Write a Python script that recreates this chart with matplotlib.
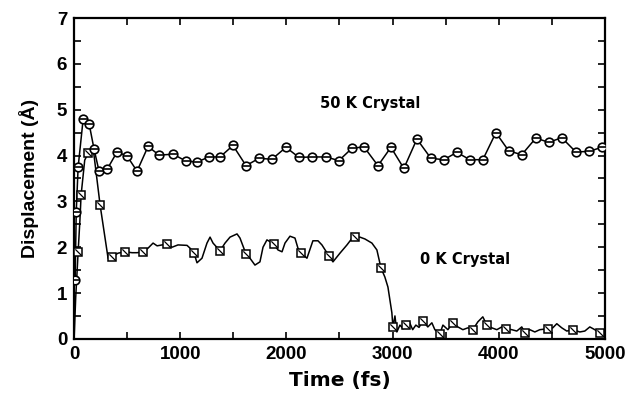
import matplotlib
matplotlib.use("Agg")
import matplotlib.pyplot as plt
import numpy as np
from matplotlib.path import Path
from matplotlib.ticker import MultipleLocator

# 50 K crystal: sampled displacement (fs, angstrom)
t_50k = [10, 20, 38, 85, 141, 188, 235, 311, 405, 499, 593, 697, 800, 932,
         1055, 1158, 1271, 1375, 1497, 1620, 1742, 1864, 1996, 2119, 2241,
         2373, 2495, 2618, 2731, 2863, 2985, 3107, 3230, 3362, 3484, 3606,
         3729, 3851, 3974, 4096, 4218, 4350, 4473, 4595, 4727, 4849, 4972]
d_50k = [1.29, 2.77, 3.75, 4.79, 4.70, 4.14, 3.66, 3.70, 4.08, 3.99, 3.66,
         4.20, 4.01, 4.03, 3.88, 3.86, 3.97, 3.97, 4.22, 3.78, 3.94, 3.92,
         4.18, 3.96, 3.97, 3.97, 3.89, 4.16, 4.19, 3.78, 4.18, 3.72, 4.36,
         3.94, 3.91, 4.07, 3.91, 3.91, 4.50, 4.10, 4.02, 4.38, 4.29, 4.39,
         4.08, 4.09, 4.18]

# 0 K crystal: full trajectory
t_0k = [0, 15, 38, 55, 66, 100, 132, 180, 245, 320, 358, 414, 480, 546, 593,
        650, 697, 744, 782, 829, 876, 923, 979, 1064, 1092, 1130, 1158, 1205,
        1252, 1281, 1309, 1375, 1422, 1469, 1535, 1563, 1620, 1660, 1704,
        1751, 1780, 1817, 1883, 1921, 1959, 1987, 2034, 2081, 2109, 2137,
        2194, 2222, 2250, 2298, 2335, 2401, 2439, 2505, 2571, 2627, 2646,
        2693, 2740, 2806, 2853, 2891, 2928, 2957, 2994, 3004, 3023, 3041,
        3070, 3100, 3126, 3160, 3190, 3220, 3250, 3286, 3333, 3371, 3399,
        3446, 3475, 3522, 3569, 3616, 3663, 3710, 3757, 3804, 3851, 3889,
        3936, 3983, 4030, 4068, 4124, 4171, 4218, 4247, 4294, 4341, 4388,
        4463, 4510, 4548, 4595, 4642, 4699, 4765, 4812, 4859, 4906, 4953, 5000]
d_0k = [0.00, 0.90, 1.90, 2.60, 3.14, 3.90, 4.05, 4.15, 2.92, 1.76, 1.79,
        1.87, 1.90, 1.88, 1.88, 1.90, 1.98, 2.09, 2.03, 2.05, 2.07, 2.00,
        2.05, 2.04, 1.98, 1.87, 1.66, 1.76, 2.09, 2.22, 2.09, 1.92, 2.09,
        2.22, 2.29, 2.20, 1.85, 1.75, 1.61, 1.68, 2.00, 2.16, 2.07, 1.94,
        1.90, 2.09, 2.24, 2.20, 1.98, 1.87, 1.76, 1.95, 2.14, 2.14, 2.05,
        1.81, 1.68, 1.87, 2.05, 2.22, 2.22, 2.22, 2.18, 2.09, 1.94, 1.55,
        1.35, 1.13, 0.57, 0.26, 0.50, 0.15, 0.30, 0.22, 0.30, 0.36, 0.20,
        0.30, 0.25, 0.39, 0.26, 0.35, 0.20, 0.11, 0.30, 0.20, 0.35, 0.26,
        0.20, 0.24, 0.20, 0.37, 0.48, 0.30, 0.24, 0.20, 0.26, 0.22, 0.20,
        0.17, 0.26, 0.13, 0.20, 0.15, 0.20, 0.22, 0.24, 0.33, 0.24, 0.17,
        0.20, 0.15, 0.17, 0.26, 0.20, 0.13, 0.20]

# times on the 0 K trajectory that carry a square symbol
t_0k_marks = [38, 66, 132, 245, 358, 480, 650, 876, 1130, 1375, 1620, 1883,
              2137, 2401, 2646, 2891, 3004, 3126, 3286, 3446, 3569, 3757,
              3889, 4068, 4247, 4463, 4699, 4953]

plt.rcParams["font.family"] = ["Liberation Sans", "DejaVu Sans"]
plt.rcParams["font.weight"] = "bold"

fig = plt.figure(figsize=(6.28, 3.94), dpi=100)
ax = fig.add_axes([0.118, 0.140, 0.845, 0.814])

slash = Path([(-1, 1), (1, -1)])
mark_idx = [t_0k.index(t) for t in t_0k_marks]

ax.plot(t_0k, d_0k, color="black", lw=1.1, zorder=2)
ax.plot(t_0k, d_0k, ls="none", marker="s", ms=6.3, mfc="white", mec="black",
        mew=1.1, markevery=mark_idx, zorder=3)
ax.plot(t_0k, d_0k, ls="none", marker=slash, ms=4.5, mec="black", mew=0.9,
        markevery=mark_idx, zorder=4)

ax.plot(t_50k, d_50k, color="black", lw=1.1, zorder=2)
ax.plot(t_50k, d_50k, ls="none", marker="o", ms=6.2, mfc="white", mec="black",
        mew=1.2, zorder=3)
ax.plot(t_50k, d_50k, ls="none", marker="_", ms=6.2, mec="black", mew=1.2,
        zorder=4)

note_font = dict(family="DejaVu Sans", fontsize=10.5, fontweight="bold",
                 va="center", ha="left")
ax.text(2316, 5.14, "50 K Crystal", **note_font)
ax.text(3258, 1.74, "0 K Crystal", **note_font)

ax.set_xlim(0, 5000)
ax.set_ylim(0, 7)
ax.xaxis.set_major_locator(MultipleLocator(1000))
ax.xaxis.set_minor_locator(MultipleLocator(500))
ax.yaxis.set_major_locator(MultipleLocator(1))
ax.yaxis.set_minor_locator(MultipleLocator(0.5))
ax.tick_params(which="both", direction="in", top=True, right=True,
               width=1.2, labelsize=13.5)
ax.tick_params(which="major", length=5, pad=5)
ax.tick_params(which="minor", length=5)
for lab in ax.get_xticklabels() + ax.get_yticklabels():
    lab.set_fontweight("bold")
for sp in ax.spines.values():
    sp.set_linewidth(1.6)

ax.set_xlabel("Time (fs)", family="DejaVu Sans", fontsize=14.5,
              fontweight="bold", labelpad=6)
ax.set_ylabel("Displacement (Å)", fontsize=14, fontweight="bold", labelpad=13)

fig.savefig("out.png", dpi=100)
